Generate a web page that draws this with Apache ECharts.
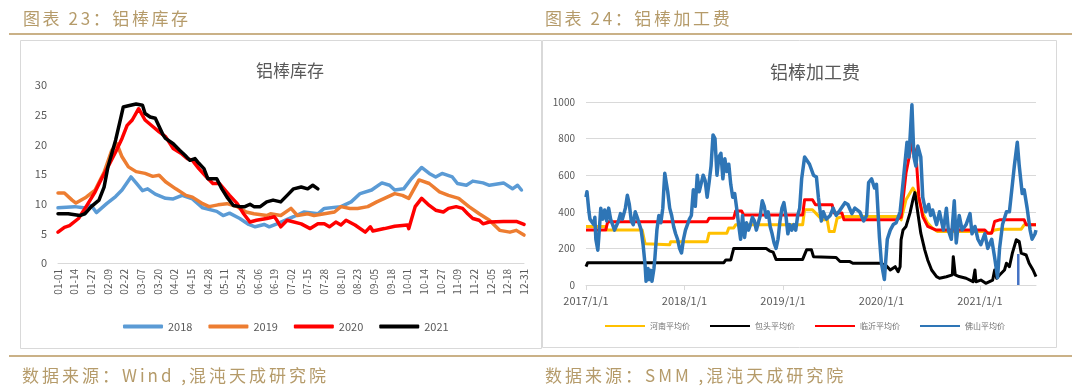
<!DOCTYPE html>
<html>
<head>
<meta charset="utf-8">
<script src="https://cdn.jsdelivr.net/npm/echarts@6/dist/echarts.min.js"></script>
<style>
html,body{margin:0;padding:0;background:#fff;}
#wrap{position:relative;width:1080px;height:389px;}
#c{position:absolute;left:0;top:0;width:1080px;height:389px;}
.cap{position:absolute;font-family:"Noto Sans CJK SC";color:#B59B6A;white-space:nowrap;line-height:1;}
.hd{top:9px;font-size:17px;letter-spacing:2.6px;}
.ft{top:366px;font-size:17px;letter-spacing:3px;}
</style>
</head>
<body>
<div id="wrap">
<div id="c"></div>
<div class="cap hd" style="left:23px">图表 23：铝棒库存</div>
<div class="cap hd" style="left:545px">图表 24：铝棒加工费</div>
<div class="cap ft" style="left:22px">数据来源：Wind ,混沌天成研究院</div>
<div class="cap ft" style="left:545px">数据来源：SMM ,混沌天成研究院</div>
</div>
<script>
// ---------- Left chart: 铝棒库存 (x = day of year, y = 万吨) ----------
const dayTickLabels = ['01-01','01-14','01-27','02-09','02-22','03-07','03-20','04-02','04-15','04-28','05-11','05-24','06-06','06-19','07-02','07-15','07-28','08-10','08-23','09-05','09-18','10-01','10-14','10-27','11-09','11-22','12-05','12-18','12-31'];
const invYears = ['2018','2019','2020','2021'];
const inv2018 = [[0,9.3],[13,9.5],[20,9.3],[26,9.7],[30,8.5],[38,10.0],[45,11.2],[50,12.3],[57,14.5],[61,13.5],[66,12.2],[70,12.5],[76,11.6],[84,10.9],[90,10.8],[97,11.4],[105,10.8],[113,9.3],[124,8.7],[129,8.0],[134,8.4],[142,7.5],[149,6.5],[154,6.1],[161,6.5],[165,6.1],[171,6.6],[184,7.8],[192,8.6],[203,8.3],[208,9.2],[221,9.5],[229,10.3],[236,11.7],[245,12.3],[253,13.5],[259,13.1],[263,12.3],[270,12.5],[276,14.2],[284,16.1],[290,15.1],[295,14.5],[300,15.1],[308,14.5],[312,13.4],[319,13.1],[324,13.8],[332,13.5],[337,13.1],[348,13.5],[355,12.5],[359,13.1],[362,12.3]];
const inv2019 = [[0,11.8],[5,11.8],[11,10.6],[14,10.1],[22,11.1],[29,12.3],[36,15.3],[42,19.0],[46,20.1],[50,17.9],[55,16.2],[61,15.4],[68,15.1],[74,14.6],[79,14.8],[84,13.7],[92,12.5],[100,11.4],[105,11.1],[113,10.0],[118,9.5],[125,9.8],[132,10.0],[140,9.5],[147,8.6],[153,8.3],[163,8.0],[166,8.3],[174,8.0],[182,9.2],[187,8.0],[195,8.3],[200,8.0],[208,8.3],[216,8.6],[221,9.5],[228,9.2],[234,9.2],[242,9.5],[249,10.3],[255,10.9],[263,11.7],[269,11.4],[274,10.9],[282,14.0],[290,13.4],[298,12.0],[305,11.4],[313,10.9],[321,9.5],[329,8.3],[337,7.2],[345,5.5],[353,5.2],[358,5.5],[364,4.7]];
const inv2020 = [[0,5.2],[5,6.0],[9,6.3],[16,7.5],[22,9.5],[29,12.0],[34,14.2],[39,16.2],[45,18.7],[50,21.0],[54,23.2],[58,24.1],[63,26.0],[68,24.1],[74,23.0],[79,22.1],[84,21.3],[90,19.3],[96,18.5],[101,17.6],[105,17.3],[110,15.9],[116,14.5],[121,13.4],[126,13.4],[134,11.4],[140,10.0],[145,8.3],[150,6.9],[155,7.2],[163,7.5],[169,7.8],[171,7.2],[174,6.1],[179,7.2],[190,6.6],[197,5.8],[203,6.6],[208,6.6],[212,6.1],[217,6.9],[221,6.4],[225,7.2],[232,6.4],[240,5.2],[244,6.1],[246,5.4],[255,5.8],[263,6.2],[273,6.4],[274,5.8],[279,9.5],[284,10.9],[290,9.7],[295,8.9],[301,8.6],[305,9.2],[311,9.5],[316,9.2],[320,8.3],[324,7.5],[329,7.2],[332,6.6],[337,6.9],[348,7.0],[358,7.0],[364,6.5]];
const inv2021 = [[0,8.3],[8,8.3],[17,8.0],[21,8.3],[26,9.5],[32,10.6],[36,12.8],[39,16.2],[45,20.7],[49,24.4],[51,26.3],[55,26.5],[61,26.8],[66,26.6],[68,25.2],[72,24.6],[76,24.4],[82,21.6],[84,21.0],[90,20.1],[95,19.0],[99,18.2],[103,17.3],[107,17.6],[110,16.8],[114,15.9],[117,14.2],[124,14.2],[128,12.5],[132,11.1],[137,9.7],[142,9.5],[146,9.5],[150,9.9],[153,9.5],[158,9.5],[163,10.3],[168,10.6],[174,10.3],[179,11.4],[184,12.5],[190,12.8],[195,12.5],[199,13.1],[203,12.5]];
const invColors = ['#5B9BD5','#ED7D31','#FF0000','#000000'];

// ---------- Right chart: 铝棒加工费 (x = years since 2017/1/1, y = 元/吨) ----------
const feeNames = ['河南平均价','包头平均价','临沂平均价','佛山平均价'];
const feeColors = ['#FFC000','#000000','#FF0000','#2E75B6'];
const henan = [[0,320],[0.2,320],[0.21,301],[0.57,301],[0.6,225],[0.85,220],[0.86,237],[1.23,237],[1.25,283],[1.43,283],[1.45,311],[1.5,311],[1.52,329],[2.2,329],[2.22,411],[2.3,411],[2.35,383],[2.4,356],[2.45,356],[2.47,292],[2.52,292],[2.55,365],[2.6,374],[3.18,374],[3.2,356],[3.25,466],[3.32,530],[3.37,484],[3.42,393],[3.47,338],[3.52,310],[3.57,292],[4.05,292],[4.1,283],[4.15,301],[4.2,305],[4.42,305],[4.45,329],[4.57,329]];
const baotou = [[0,100],[0.017,122],[1.4,122],[1.42,137],[1.47,137],[1.5,200],[1.83,200],[1.87,185],[1.9,180],[1.93,140],[2.2,140],[2.22,146],[2.24,192],[2.29,192],[2.31,155],[2.54,150],[2.58,128],[2.68,128],[2.71,119],[2.99,119],[3.0,110],[3.05,105],[3.09,82],[3.14,100],[3.17,73],[3.19,100],[3.2,247],[3.22,301],[3.25,320],[3.29,393],[3.32,466],[3.34,505],[3.35,470],[3.37,393],[3.4,283],[3.44,192],[3.47,137],[3.51,82],[3.56,46],[3.59,37],[3.66,45],[3.72,55],[3.73,155],[3.75,55],[3.79,46],[3.86,37],[3.93,18],[3.95,82],[3.96,18],[4.01,27],[4.06,9],[4.13,27],[4.15,82],[4.17,37],[4.2,55],[4.25,82],[4.27,119],[4.3,100],[4.33,174],[4.37,247],[4.4,237],[4.42,174],[4.47,164],[4.5,119],[4.54,82],[4.57,46]];
const linyi = [[0,300],[0.2,300],[0.22,345],[1.23,345],[1.25,365],[1.5,365],[1.52,405],[1.58,405],[1.6,383],[2.2,383],[2.22,466],[2.3,466],[2.33,438],[2.5,438],[2.52,393],[2.6,393],[2.62,356],[3.15,356],[3.2,370],[3.25,612],[3.31,776],[3.35,721],[3.38,484],[3.42,374],[3.47,320],[3.55,301],[4.05,301],[4.08,283],[4.12,283],[4.15,347],[4.2,356],[4.45,356],[4.47,329],[4.57,329]];
const foshan = [[0,480],[0.01,510],[0.02,500],[0.03,400],[0.04,360],[0.06,350],[0.08,330],[0.09,370],[0.1,250],[0.12,190],[0.13,260],[0.15,420],[0.17,360],[0.19,410],[0.21,350],[0.23,420],[0.25,360],[0.27,330],[0.29,300],[0.31,300],[0.33,350],[0.35,390],[0.37,360],[0.4,420],[0.42,490],[0.44,440],[0.46,350],[0.48,330],[0.5,400],[0.52,370],[0.54,360],[0.56,300],[0.58,220],[0.6,110],[0.61,20],[0.63,90],[0.64,30],[0.66,80],[0.67,20],[0.69,90],[0.7,150],[0.72,300],[0.74,380],[0.76,340],[0.78,420],[0.79,520],[0.8,610],[0.81,600],[0.83,510],[0.85,420],[0.87,380],[0.89,320],[0.91,280],[0.93,250],[0.95,200],[0.97,175],[0.99,250],[1.01,300],[1.03,330],[1.05,360],[1.07,380],[1.09,520],[1.11,430],[1.13,600],[1.15,510],[1.17,520],[1.19,600],[1.21,570],[1.23,480],[1.25,560],[1.27,650],[1.29,820],[1.31,800],[1.33,600],[1.35,700],[1.37,720],[1.39,580],[1.41,690],[1.43,620],[1.45,660],[1.47,550],[1.49,480],[1.51,500],[1.53,420],[1.55,330],[1.57,250],[1.59,380],[1.61,260],[1.63,340],[1.65,300],[1.67,330],[1.69,370],[1.71,350],[1.73,300],[1.75,340],[1.77,380],[1.79,460],[1.81,430],[1.83,370],[1.85,400],[1.87,320],[1.89,280],[1.91,230],[1.93,200],[1.95,250],[1.97,350],[1.99,420],[2.01,450],[2.03,380],[2.05,280],[2.07,330],[2.09,300],[2.11,330],[2.13,300],[2.15,380],[2.17,420],[2.19,580],[2.22,700],[2.27,660],[2.31,600],[2.34,590],[2.36,480],[2.39,350],[2.41,400],[2.44,360],[2.48,380],[2.51,420],[2.54,380],[2.58,410],[2.63,450],[2.66,440],[2.7,390],[2.73,420],[2.78,400],[2.82,350],[2.85,380],[2.87,560],[2.9,580],[2.93,530],[2.95,550],[2.98,260],[3.0,120],[3.03,30],[3.06,250],[3.09,300],[3.12,330],[3.15,340],[3.19,400],[3.22,560],[3.26,780],[3.28,700],[3.31,985],[3.33,700],[3.35,650],[3.37,760],[3.4,700],[3.42,480],[3.45,400],[3.48,440],[3.5,380],[3.52,410],[3.56,330],[3.59,400],[3.63,300],[3.66,420],[3.68,300],[3.71,250],[3.74,460],[3.76,230],[3.79,380],[3.82,300],[3.86,330],[3.9,390],[3.92,280],[3.95,320],[3.98,250],[4.01,220],[4.05,280],[4.08,200],[4.12,250],[4.15,150],[4.18,40],[4.2,200],[4.23,330],[4.27,400],[4.3,400],[4.33,550],[4.35,650],[4.38,780],[4.4,650],[4.43,500],[4.45,520],[4.48,420],[4.51,300],[4.53,250],[4.56,280],[4.57,300]];
const strayDrop = [[4.39,170],[4.39,0]];
const feeStartYear = 2017;

const toYear = arr => arr.map(p => [p[0] + feeStartYear, p[1]]);

const FONT = 'Noto Sans CJK SC';
const GRAY = '#595959';

const chart = echarts.init(document.getElementById('c'), null, {renderer: 'canvas'});

const series = [];
[inv2018, inv2019, inv2020, inv2021].forEach((d, i) => {
  series.push({
    name: invYears[i], type: 'line', xAxisIndex: 0, yAxisIndex: 0,
    data: d, showSymbol: false, smooth: false,
    lineStyle: {width: 3.5, color: invColors[i], cap: 'round', join: 'round'},
    itemStyle: {color: invColors[i]}, z: 2 + i, animation: false
  });
});
[henan, baotou, linyi, foshan].forEach((d, i) => {
  series.push({
    name: feeNames[i], type: 'line', xAxisIndex: 1, yAxisIndex: 1,
    data: toYear(d), showSymbol: false,
    lineStyle: {width: i === 3 ? 3.5 : 3, color: feeColors[i], join: 'round'},
    itemStyle: {color: feeColors[i]}, z: 2 + i, animation: false
  });
});
series.push({
  name: 'stray', type: 'line', xAxisIndex: 1, yAxisIndex: 1,
  data: toYear(strayDrop), showSymbol: false,
  lineStyle: {width: 2.5, color: '#4472C4'}, z: 7, animation: false
});

const option = {
  backgroundColor: '#fff',
  animation: false,
  textStyle: {fontFamily: FONT},
  title: [
    {text: '铝棒库存', left: 285, top: 57, textAlign: 'center',
     textStyle: {fontFamily: FONT, fontSize: 17, fontWeight: 'normal', color: GRAY}},
    {text: '铝棒加工费', left: 810, top: 58, textAlign: 'center',
     textStyle: {fontFamily: FONT, fontSize: 18, fontWeight: 'normal', color: GRAY}}
  ],
  legend: [
    {data: invYears, left: 118, top: 316, itemWidth: 40, itemHeight: 4, itemGap: 16,
     icon: 'roundRect', textStyle: {fontFamily: FONT, fontSize: 11, color: GRAY}, selectedMode: false},
    {data: feeNames, left: 600, top: 317, itemWidth: 40, itemHeight: 2, itemGap: 20,
     icon: 'rect', textStyle: {fontFamily: FONT, fontSize: 8, color: '#707070'}, selectedMode: false}
  ],
  grid: [
    {left: 58, right: 556, top: 85, bottom: 126, containLabel: false},
    {left: 586, right: 44, top: 102, bottom: 104, containLabel: false}
  ],
  xAxis: [
    {type: 'value', gridIndex: 0, min: 0, max: 364, interval: 13,
     axisLine: {show: true, lineStyle: {color: '#D9D9D9', width: 1}},
     axisTick: {show: false}, splitLine: {show: false},
     axisLabel: {rotate: 90, fontSize: 10, color: GRAY, margin: 6, fontFamily: FONT,
       formatter: v => dayTickLabels[Math.round(v / 13)] || ''}},
    {type: 'value', gridIndex: 1, min: 2017, max: 2021.57, interval: 1,
     axisLine: {show: true, onZero: false, lineStyle: {color: '#D9D9D9', width: 1}},
     axisTick: {show: true, length: 5, lineStyle: {color: '#D9D9D9'}},
     splitLine: {show: false},
     axisLabel: {fontSize: 11, color: GRAY, margin: 10, fontFamily: FONT, showMaxLabel: false,
       formatter: v => (Number.isInteger(v) ? v + '/1/1' : '')}}
  ],
  yAxis: [
    {type: 'value', gridIndex: 0, min: 0, max: 30, interval: 5,
     axisLine: {show: false}, axisTick: {show: false}, splitLine: {show: false},
     axisLabel: {fontSize: 11, color: GRAY, margin: 11, fontFamily: FONT}},
    {type: 'value', gridIndex: 1, min: 0, max: 1000, interval: 200,
     axisLine: {show: false}, axisTick: {show: false},
     splitLine: {show: true, lineStyle: {color: '#D9D9D9', width: 1}},
     axisLabel: {fontSize: 10, color: GRAY, margin: 11, fontFamily: FONT, formatter: v => String(v)}}
  ],
  graphic: [
    {type: 'line', shape: {x1: 9, y1: 34, x2: 1072, y2: 34}, style: {stroke: '#B8975F', lineWidth: 1.5}},
    {type: 'line', shape: {x1: 9, y1: 356, x2: 1072, y2: 356}, style: {stroke: '#B8975F', lineWidth: 1.5}},
    {type: 'rect', shape: {x: 20.5, y: 40.5, width: 521, height: 308}, style: {fill: 'none', stroke: '#D9D9D9', lineWidth: 1}},
    {type: 'rect', shape: {x: 542.5, y: 40.5, width: 514, height: 307}, style: {fill: 'none', stroke: '#D9D9D9', lineWidth: 1}}
  ],
  series: series
};
chart.setOption(option);
</script>
</body>
</html>
